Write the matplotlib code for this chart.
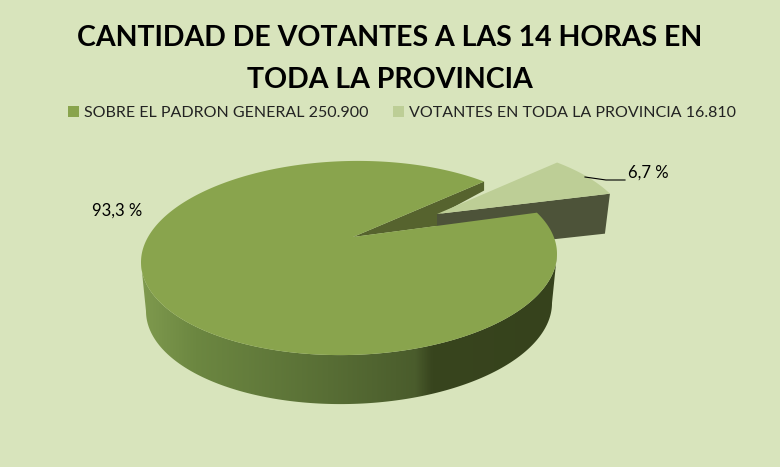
import numpy as np
import matplotlib
matplotlib.use("Agg")
import matplotlib.pyplot as plt
from matplotlib.patches import Polygon, Patch
from matplotlib.colors import LinearSegmentedColormap

plt.rcParams['font.family'] = ['Lato', 'DejaVu Sans']

# datos del grafico
titulo = "CANTIDAD DE VOTANTES A LAS 14 HORAS EN\nTODA LA PROVINCIA"
categorias = ["SOBRE EL PADRON GENERAL 250.900", "VOTANTES EN TODA LA PROVINCIA 16.810"]
porcentajes = [93.3, 6.7]

fondo = "#D8E4BC"
verde = "#89A44D"
verde_claro = "#BDCE96"
cara_corte = "#56632E"
cara_chica = "#4D5339"

fig = plt.figure(figsize=(7.8, 4.67), dpi=100, facecolor=fondo)
ax = fig.add_axes([0, 0, 1, 1])
ax.set_facecolor(fondo)
ax.axis("off")


# borde de la elipse, con un poco de inclinacion por la perspectiva
def elipse(t, cx, cy, rx, ry):
    x = cx + rx * np.cos(np.radians(t))
    y = cy - ry * np.sin(np.radians(t)) - 0.02 * (x - cx)
    return np.column_stack([x, y])


arriba = (349, 258, 208, 97)
abajo = (349, 307, 203, 97)
centro = np.array([353, 237])
centro_chico = np.array([437, 214])
separacion = np.array([73, -19])

inicio = 49.5
barrido = [p / sum(porcentajes) * 360 for p in porcentajes]
fin = inicio + barrido[0]
t_grande = np.linspace(inicio, fin, 300)
t_chico = np.linspace(fin, inicio + 360, 30)

# pared frontal del sector grande con degradado
pared = Polygon(np.vstack([elipse(np.linspace(180, 360, 200), *arriba),
                           elipse(np.linspace(360, 180, 200), *abajo)]),
                transform=ax.transData, fc="none", ec="none")
ax.add_patch(pared)
degradado = LinearSegmentedColormap.from_list("pared", [
    (0.0, "#7F9A4E"), (0.13, "#6C8741"), (0.45, "#586E35"),
    (0.66, "#4A5C2C"), (0.70, "#38451E"), (1.0, "#36421C")])
img = ax.imshow(np.linspace(0, 1, 256)[None, :], extent=(141, 557, 410, 150),
                cmap=degradado, aspect="auto", zorder=1)
img.set_clip_path(pared)

# cara de corte del sector grande
borde_ini = elipse(np.array([inicio]), *arriba)[0]
ax.add_patch(Polygon([centro, borde_ini, borde_ini + [0, 9], centro_chico + [0, 2],
                      centro_chico + [0, 12]], fc=cara_corte, ec="none", zorder=2))

# sector separado
arco_chico = elipse(t_chico, *arriba) + separacion
esquina = arco_chico[0]
ax.add_patch(Polygon([centro_chico, esquina, esquina + [-5, 40], centro_chico + [0, 38]],
                     fc=cara_chica, ec="none", zorder=3))
ax.add_patch(Polygon(np.vstack([centro_chico, arco_chico]), fc=verde_claro, ec="none", zorder=4))

# tapa del sector grande
ax.add_patch(Polygon(np.vstack([centro, elipse(t_grande, *arriba)]), fc=verde, ec="none", zorder=5))

# etiquetas
etiquetas = [f"{p:.1f} %".replace(".", ",") for p in porcentajes]
ax.text(117, 211, etiquetas[0], fontsize=12, color="black", ha="center", va="center", zorder=6)
ax.text(648, 173, etiquetas[1], fontsize=12, color="black", ha="center", va="center", zorder=6)
ax.plot([585, 606, 625], [177, 180, 180], color="black", lw=0.8, zorder=6)

ax.text(390, 59, titulo, fontsize=20.5, fontweight="bold", color="black", ha="center",
        va="center", linespacing=1.77)

manejadores = [Patch(fc=verde), Patch(fc=verde_claro)]
ax.legend(manejadores, categorias, ncol=2, loc="center", bbox_to_anchor=(402, 113),
          bbox_transform=ax.transData, frameon=False, fontsize=11.5, handlelength=0.7,
          handleheight=0.7, handletextpad=0.35, columnspacing=1.5, labelcolor="#222222")

ax.set_xlim(0, 780)
ax.set_ylim(467, 0)
fig.savefig("out.png", dpi=100, facecolor=fondo)
